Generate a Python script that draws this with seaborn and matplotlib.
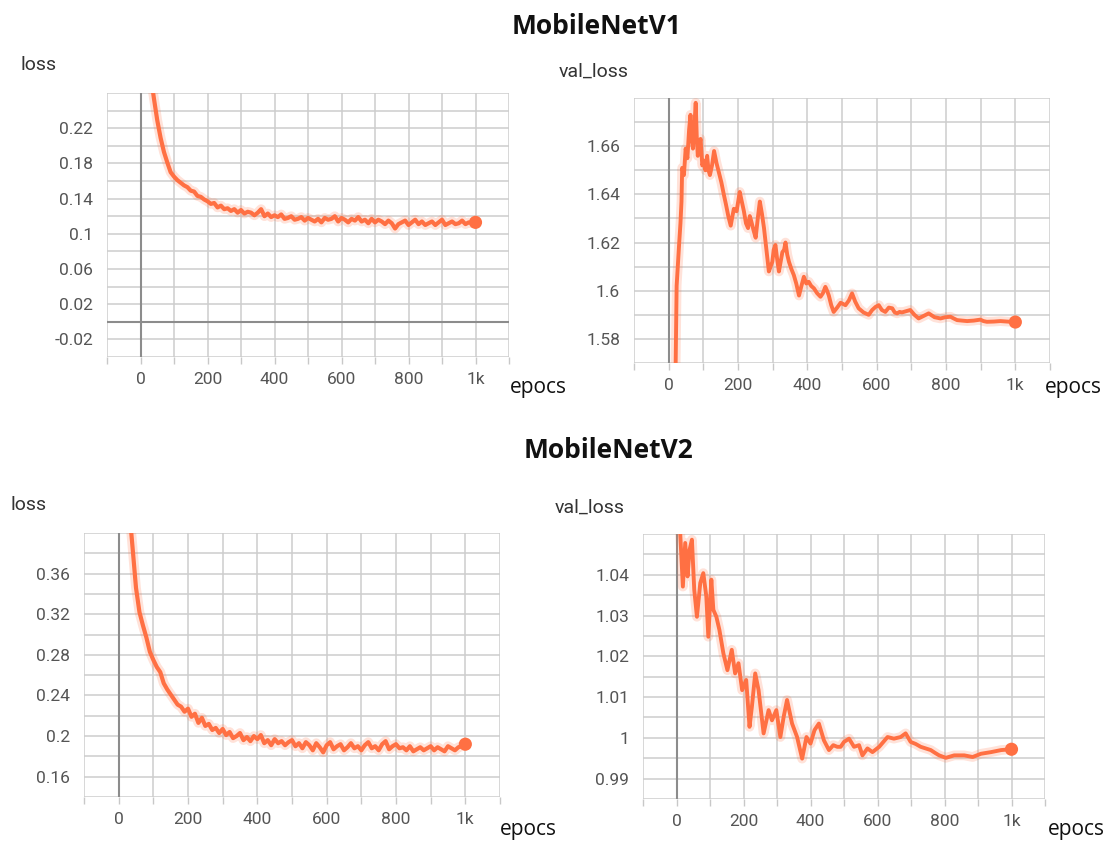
import numpy as np
import matplotlib
matplotlib.use("Agg")
import matplotlib.pyplot as plt
import seaborn as sns

sns.set_theme(style="white")
plt.rcParams['font.family'] = ['Roboto', 'DejaVu Sans']

ORANGE = "#ff7043"

# ---------------- data ----------------
titles = ["MobileNetV1", "MobileNetV2"]
metric_names = ["loss", "val_loss", "loss", "val_loss"]
x_name = "epocs"

# MobileNetV1 training loss, every 10 epochs (0..1000)
v1_loss_epoch = list(range(0, 1001, 10))
v1_loss = [0.450, 0.380, 0.322, 0.281, 0.254, 0.229, 0.209, 0.193, 0.181, 0.170,
           0.165, 0.161, 0.158, 0.155, 0.153, 0.149, 0.148, 0.143, 0.142, 0.139,
           0.137, 0.134, 0.135, 0.130, 0.132, 0.128, 0.129, 0.126, 0.128, 0.124,
           0.127, 0.123, 0.125, 0.124, 0.121, 0.124, 0.128, 0.120, 0.123, 0.119,
           0.121, 0.119, 0.122, 0.117, 0.118, 0.120, 0.116, 0.117, 0.119, 0.115,
           0.118, 0.116, 0.114, 0.117, 0.113, 0.118, 0.116, 0.117, 0.120, 0.114,
           0.118, 0.116, 0.113, 0.117, 0.115, 0.119, 0.114, 0.116, 0.112, 0.117,
           0.113, 0.116, 0.114, 0.111, 0.115, 0.112, 0.106, 0.111, 0.113, 0.115,
           0.110, 0.113, 0.116, 0.111, 0.114, 0.110, 0.112, 0.114, 0.110, 0.113,
           0.116, 0.110, 0.112, 0.114, 0.111, 0.112, 0.115, 0.111, 0.113, 0.112, 0.113]

# MobileNetV1 validation loss
v1_val_epoch = [0, 10, 20, 23, 30, 34, 37, 39, 44, 49,
                54, 59, 63, 66, 70, 74, 78, 81, 84, 88,
                92, 97, 102, 106, 111, 115, 119, 125, 131, 138,
                145, 152, 159, 165, 172, 179, 184, 188, 196, 205,
                211, 217, 223, 229, 234, 238, 245, 251, 257, 263,
                269, 275, 282, 289, 294, 299, 303, 308, 313, 318,
                323, 328, 333, 337, 342, 347, 354, 361, 368, 376,
                383, 390, 397, 404, 411, 419, 428, 438, 445, 452,
                457, 462, 469, 476, 486, 496, 503, 510, 520, 529,
                538, 548, 562, 577, 587, 597, 606, 615, 625, 635,
                645, 652, 659, 666, 673, 685, 697, 709, 721, 735,
                750, 767, 784, 798, 813, 822, 832, 846, 861, 880,
                899, 908, 918, 938, 957, 976, 1000]
v1_val = [1.450, 1.510, 1.568, 1.602, 1.619, 1.628, 1.637, 1.651, 1.648, 1.659,
          1.655, 1.667, 1.673, 1.664, 1.659, 1.668, 1.678, 1.664, 1.656, 1.660,
          1.663, 1.652, 1.654, 1.650, 1.656, 1.650, 1.648, 1.652, 1.658, 1.653,
          1.649, 1.645, 1.640, 1.636, 1.631, 1.627, 1.631, 1.634, 1.633, 1.641,
          1.637, 1.633, 1.628, 1.626, 1.631, 1.629, 1.625, 1.622, 1.630, 1.637,
          1.632, 1.626, 1.617, 1.608, 1.610, 1.612, 1.617, 1.619, 1.613, 1.608,
          1.612, 1.616, 1.617, 1.620, 1.615, 1.612, 1.609, 1.6065, 1.603, 1.598,
          1.602, 1.6058, 1.603, 1.6037, 1.602, 1.601, 1.599, 1.5975, 1.599, 1.6016,
          1.600, 1.598, 1.594, 1.5912, 1.593, 1.595, 1.5945, 1.594, 1.596, 1.5989,
          1.5955, 1.5927, 1.591, 1.590, 1.592, 1.5933, 1.594, 1.592, 1.5912, 1.593,
          1.5927, 1.591, 1.5906, 1.5912, 1.591, 1.5915, 1.592, 1.590, 1.5885, 1.5895,
          1.5906, 1.589, 1.5885, 1.589, 1.5892, 1.5885, 1.5878, 1.5876, 1.5874, 1.5876,
          1.588, 1.5874, 1.5871, 1.5872, 1.5874, 1.5872, 1.587]

# MobileNetV2 training loss, every 10 epochs (0..1000)
v2_loss_epoch = list(range(0, 1001, 10))
v2_loss = [0.600, 0.530, 0.470, 0.425, 0.386, 0.346, 0.322, 0.309, 0.297, 0.283,
           0.275, 0.268, 0.263, 0.252, 0.246, 0.241, 0.236, 0.231, 0.229, 0.224,
           0.227, 0.219, 0.222, 0.213, 0.218, 0.210, 0.212, 0.206, 0.208, 0.203,
           0.207, 0.201, 0.204, 0.198, 0.200, 0.203, 0.196, 0.199, 0.195, 0.200,
           0.197, 0.201, 0.193, 0.196, 0.191, 0.197, 0.193, 0.195, 0.191, 0.194,
           0.196, 0.190, 0.193, 0.188, 0.194, 0.191, 0.186, 0.193, 0.189, 0.184,
           0.191, 0.194, 0.187, 0.190, 0.192, 0.186, 0.189, 0.193, 0.188, 0.190,
           0.186, 0.191, 0.194, 0.188, 0.190, 0.186, 0.192, 0.195, 0.187, 0.190,
           0.192, 0.188, 0.189, 0.186, 0.190, 0.185, 0.187, 0.189, 0.186, 0.188,
           0.190, 0.186, 0.189, 0.187, 0.185, 0.190, 0.188, 0.186, 0.189, 0.190, 0.192]

# MobileNetV2 validation loss
v2_val_epoch = [0, 11, 19, 26, 33, 39, 46, 53, 61, 71,
                80, 89, 95, 104, 110, 119, 128, 140, 152, 165,
                175, 185, 196, 208, 218, 225, 235, 245, 260, 275,
                285, 298, 310, 320, 330, 345, 360, 375, 388, 400,
                412, 425, 440, 455, 468, 480, 490, 500, 515, 530,
                545, 555, 570, 585, 605, 630, 649, 669, 684, 699,
                714, 729, 744, 759, 772, 784, 804, 829, 859, 884,
                909, 939, 969, 1000]
v2_val = [1.062, 1.0503, 1.0371, 1.0478, 1.0396, 1.0461, 1.0486, 1.0363, 1.0297, 1.0380,
          1.0404, 1.0347, 1.0248, 1.0388, 1.0314, 1.0297, 1.0265, 1.0207, 1.0166, 1.0216,
          1.0158, 1.0183, 1.0117, 1.0142, 1.0027, 1.0076, 1.0158, 1.0117, 1.0011, 1.0068,
          1.0043, 1.0068, 1.0002, 1.0052, 1.0093, 1.0035, 1.0002, 0.9949, 1.0002, 0.9986,
          1.0019, 1.0035, 0.9994, 0.9970, 0.9982, 0.9978, 0.9978, 0.9990, 0.9998, 0.9978,
          0.9982, 0.9957, 0.9974, 0.9965, 0.9978, 1.0002, 0.9998, 1.0002, 1.0011, 0.9990,
          0.9985, 0.9978, 0.9974, 0.9970, 0.9963, 0.9957, 0.9951, 0.9957, 0.9957, 0.9953,
          0.9961, 0.9965, 0.9970, 0.9972]

# axis ticks
x_ticks = [-100, 0, 100, 200, 300, 400, 500, 600, 700, 800, 900, 1000, 1100]
x_tick_labels = ["", "0", "", "200", "", "400", "", "600", "", "800", "", "1k", ""]

v1_loss_labels = [-0.02, 0.02, 0.06, 0.10, 0.14, 0.18, 0.22]
v1_val_labels = [1.58, 1.60, 1.62, 1.64, 1.66]
v2_loss_labels = [0.16, 0.20, 0.24, 0.28, 0.32, 0.36]
v2_val_labels = [0.99, 1.00, 1.01, 1.02, 1.03, 1.04]

# ---------------- figure ----------------
W, H = 1115, 842
fig = plt.figure(figsize=(W / 100, H / 100), dpi=100)


def rect(l, t, r, b):
    return [l / W, 1 - b / H, (r - l) / W, (b - t) / H]


def fmt(v):
    return f"{v:.2f}".rstrip("0").rstrip(".")


panels = [
    dict(r=rect(107, 93, 509, 357), ep=v1_loss_epoch, val=v1_loss, ylim=(-0.04, 0.26),
         step=0.02, labels=v1_loss_labels, lw=3.0),
    dict(r=rect(634, 98, 1050, 363), ep=v1_val_epoch, val=v1_val, ylim=(1.57, 1.68),
         step=0.01, labels=v1_val_labels, lw=2.8),
    dict(r=rect(84, 533, 500, 797), ep=v2_loss_epoch, val=v2_loss, ylim=(0.14, 0.40),
         step=0.02, labels=v2_loss_labels, lw=3.0),
    dict(r=rect(643, 534, 1045, 799), ep=v2_val_epoch, val=v2_val, ylim=(0.985, 1.05),
         step=0.005, labels=v2_val_labels, lw=2.8),
]

for p in panels:
    ax = fig.add_axes(p["r"])
    ax.set_axisbelow(True)
    sns.lineplot(x=p["ep"], y=p["val"], ax=ax, color=ORANGE, lw=7, alpha=0.2,
                 estimator=None, sort=False)
    sns.lineplot(x=p["ep"], y=p["val"], ax=ax, color=ORANGE, lw=p["lw"],
                 estimator=None, sort=False)
    sns.scatterplot(x=[p["ep"][-1]], y=[p["val"][-1]], ax=ax, color=ORANGE, s=90,
                    edgecolor="none", zorder=5)
    ax.set_xlim(-100, 1100)
    ax.set_ylim(*p["ylim"])
    ax.set_xticks(x_ticks, labels=x_tick_labels)
    ax.set_yticks(p["labels"], labels=[fmt(v) for v in p["labels"]])
    n = int(round((p["ylim"][1] - p["ylim"][0]) / p["step"]))
    ax.set_yticks([p["ylim"][0] + i * p["step"] for i in range(n + 1)], minor=True)
    ax.grid(True, which="both", axis="both", color="#cdcdcd", lw=1.1)
    for s in ax.spines.values():
        s.set_visible(False)
    ax.tick_params(axis="y", which="both", length=0, pad=10, labelsize=12.5,
                   labelcolor="#555555")
    ax.tick_params(axis="x", which="major", length=5, width=1, color="#c8c8c8",
                   pad=6, labelsize=12.5, labelcolor="#555555", bottom=True)
    ax.axvline(0, color="#8c8c8c", lw=1.5, zorder=1.5)
    if p["ylim"][0] < 0 < p["ylim"][1]:
        ax.axhline(0, color="#8c8c8c", lw=1.5, zorder=1.5)
    ax.set_xlabel("")
    ax.set_ylabel("")


def ftext(x, y, s, **kw):
    fig.text(x / W, 1 - y / H, s, **kw)


# metric names
ftext(20, 65, metric_names[0], fontsize=14, color="#333333", va="center", ha="left")
ftext(559, 72, metric_names[1], fontsize=14, color="#333333", va="center", ha="left")
ftext(10, 505, metric_names[2], fontsize=14, color="#333333", va="center", ha="left")
ftext(555, 508, metric_names[3], fontsize=14, color="#333333", va="center", ha="left")

# x axis names
for (x, y) in [(510, 388), (1045, 388), (500, 830), (1048, 830)]:
    ftext(x, y, x_name, fontsize=15, color="#111111", va="center", ha="left",
          family=["Open Sans", "DejaVu Sans"])

# section titles
ftext(597, 27, titles[0], fontsize=19, fontweight="bold", color="#111111",
      ha="center", va="center", family=["Open Sans", "DejaVu Sans"])
ftext(609, 450, titles[1], fontsize=19, fontweight="bold", color="#111111",
      ha="center", va="center", family=["Open Sans", "DejaVu Sans"])

fig.savefig("out.png", dpi=100)
